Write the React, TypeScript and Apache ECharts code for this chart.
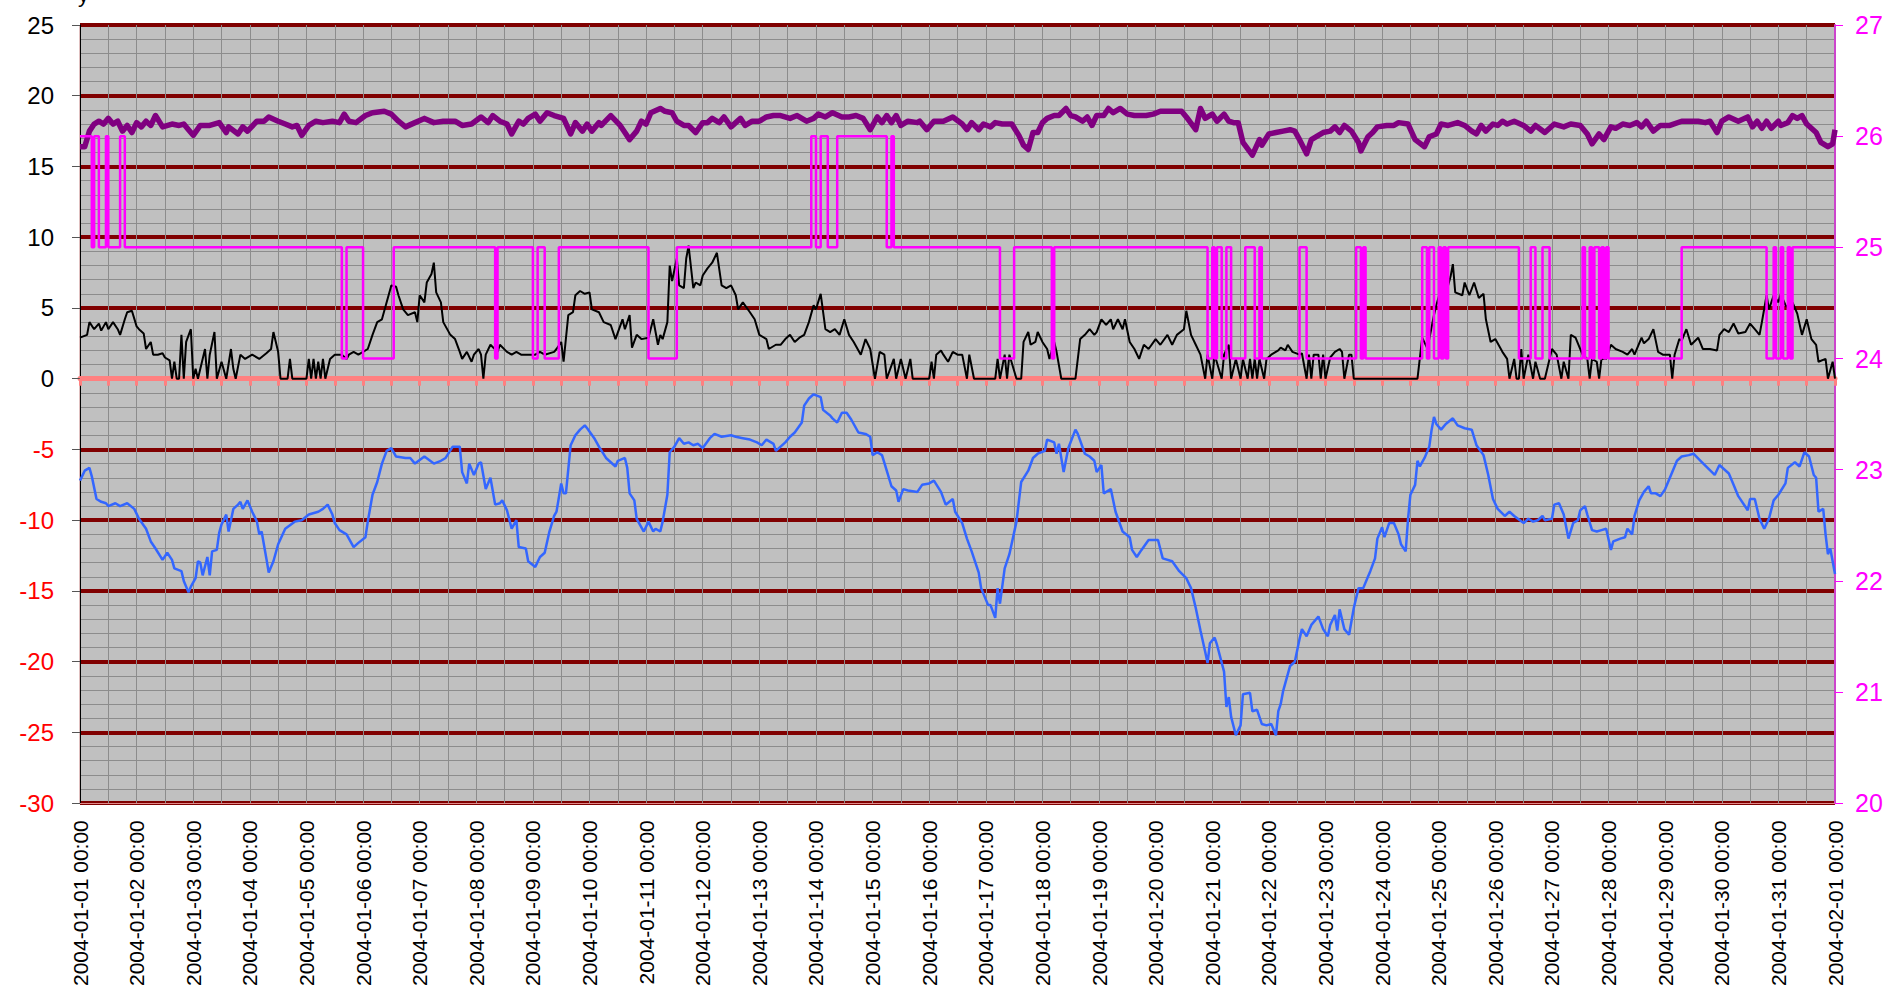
import { useEffect, useRef } from "react";
import * as echarts from "echarts";

// x values are hours since 2004-01-01 00:00
const X_MIN = 0;
const X_MAX = 744;
const LEFT_TICKS = { min: -30, max: 25, step: 5 };
const RIGHT_TICKS = { min: 20, max: 27, step: 1 };
const AXIS_TITLE = "y";

const purpleSeries: [number, number][] = [
  [0,16.4],[2,16.4],[4,17.5],[6,18.0],[8,18.2],[10,18.0],[12,18.4],[14,18.0],[16,18.2],[18,17.5],[20,17.9],[22,17.4],[24,18.1],[26,17.8],[28,18.2],[30,17.9],[32,18.6],[35,17.8],[39,18.0],[42,17.9],[44,18.0],[46,17.6],[48,17.2],[51,17.9],[55,17.9],[59,18.1],[62,17.4],[63,17.8],[67,17.3],[69,17.8],[71,17.5],[75,18.2],[78,18.2],[80,18.5],[84,18.2],[87,18.0],[90,17.8],[92,17.9],[94,17.2],[97,17.9],[100,18.2],[103,18.1],[107,18.2],[110,18.1],[112,18.7],[114,18.2],[117,18.1],[121,18.6],[124,18.8],[129,18.9],[132,18.7],[135,18.2],[138,17.8],[142,18.1],[146,18.4],[150,18.1],[154,18.2],[159,18.2],[162,17.9],[166,18.0],[170,18.5],[173,18.1],[175,18.6],[178,18.2],[181,18.0],[183,17.3],[186,18.2],[188,18.0],[190,18.4],[193,18.7],[195,18.2],[198,18.8],[201,18.6],[205,18.4],[208,17.3],[210,18.1],[213,17.5],[215,18.0],[217,17.5],[220,18.1],[221,17.9],[225,18.6],[229,17.9],[231,17.4],[233,16.9],[236,17.5],[238,18.2],[240,18.0],[242,18.8],[246,19.1],[248,18.9],[251,18.8],[253,18.2],[256,17.9],[258,17.9],[261,17.4],[264,18.1],[266,18.1],[268,18.4],[271,18.1],[273,18.5],[276,17.8],[280,18.4],[282,17.9],[285,18.2],[288,18.2],[291,18.5],[294,18.6],[297,18.6],[301,18.4],[304,18.6],[308,18.2],[311,18.4],[313,18.7],[316,18.5],[319,18.8],[323,18.5],[326,18.5],[329,18.6],[332,18.4],[335,17.6],[338,18.5],[340,18.1],[342,18.6],[344,18.1],[346,18.6],[348,17.9],[351,18.2],[355,18.1],[356,18.2],[359,17.6],[362,18.2],[366,18.2],[370,18.5],[374,18.0],[376,17.6],[378,18.1],[381,17.6],[383,18.0],[386,17.8],[388,18.1],[391,18.0],[395,18.0],[398,17.2],[400,16.5],[402,16.2],[404,17.4],[406,17.4],[408,18.1],[410,18.4],[413,18.6],[415,18.6],[418,19.1],[420,18.6],[422,18.5],[425,18.2],[427,18.5],[429,17.9],[431,18.6],[434,18.6],[436,19.1],[438,18.8],[441,19.1],[444,18.7],[447,18.6],[452,18.6],[455,18.7],[458,18.9],[463,18.9],[467,18.9],[469,18.5],[473,17.6],[475,19.1],[477,18.4],[480,18.7],[482,18.2],[485,18.7],[487,18.2],[489,18.1],[491,18.1],[493,16.7],[497,15.8],[500,16.9],[501,16.5],[504,17.3],[507,17.4],[510,17.5],[513,17.6],[515,17.5],[517,16.9],[520,15.9],[522,16.9],[525,17.2],[527,17.4],[530,17.5],[532,17.8],[534,17.4],[536,17.9],[539,17.5],[542,16.7],[543,16.1],[546,17.1],[548,17.4],[550,17.8],[554,17.9],[557,17.9],[559,18.1],[563,18.0],[566,16.9],[570,16.4],[572,17.1],[575,17.3],[577,18.0],[580,17.9],[584,18.1],[587,17.9],[590,17.5],[592,17.3],[594,17.9],[596,17.5],[599,18.0],[601,17.9],[603,18.2],[605,18.0],[608,18.2],[612,17.9],[615,17.5],[617,17.9],[621,17.4],[625,18.0],[629,17.8],[632,18.0],[636,17.9],[639,17.3],[641,16.6],[644,17.3],[646,16.9],[649,17.8],[651,17.7],[654,18.0],[657,17.9],[660,18.1],[662,17.8],[664,18.2],[667,17.5],[670,17.9],[674,17.9],[679,18.2],[686,18.2],[689,18.1],[691,18.2],[694,17.4],[696,18.2],[699,18.5],[703,18.2],[707,18.5],[709,17.8],[711,18.2],[713,17.7],[715,18.2],[717,17.7],[720,18.2],[721,17.9],[724,18.1],[726,18.6],[728,18.4],[730,18.6],[732,18.0],[736,17.4],[738,16.7],[741,16.4],[743,16.6],[744,17.6]
];

const blackSeries: [number, number][] = [
  [0,2.9],[3,3.1],[4,4.0],[6,3.5],[8,3.9],[9,3.4],[11,4.0],[12,3.5],[14,4.0],[16,3.5],[17,3.1],[19,4.2],[20,4.7],[22,4.8],[24,3.7],[25,3.5],[27,3.2],[28,2.1],[30,2.6],[31,1.7],[33,1.7],[35,1.8],[36,1.5],[38,1.3],[39,0],[40,1.2],[41,0],[42,0],[43,3.1],[44,0],[45,2.6],[47,3.5],[48,0],[49,0.7],[50,0],[53,2.1],[54,0],[55,1.7],[57,3.3],[58,0],[60,1.2],[62,0],[64,2.1],[65,0.7],[66,0],[68,1.7],[70,1.4],[73,1.7],[76,1.4],[79,1.8],[81,2.1],[82,3.3],[84,1.9],[85,0],[88,0],[89,1.4],[90,0],[96,0],[97,1.4],[98,0],[99,1.4],[100,0],[101,1.2],[102,0],[103,1.4],[104,0],[106,1.4],[108,1.7],[111,1.7],[113,1.4],[114,1.7],[116,1.9],[118,1.7],[120,1.9],[122,2.1],[124,3.1],[126,4.0],[128,4.2],[130,5.4],[132,6.6],[134,6.5],[135,5.9],[137,4.9],[139,4.5],[142,4.7],[143,4.0],[144,5.9],[146,5.4],[147,6.8],[149,7.4],[150,8.2],[151,6.1],[153,5.4],[154,4.0],[157,3.1],[159,2.8],[161,1.9],[162,1.4],[164,1.9],[166,1.2],[167,1.7],[169,2.1],[170,1.7],[171,0],[172,1.7],[174,2.4],[177,1.9],[178,2.4],[181,1.9],[183,1.7],[185,1.9],[187,1.7],[189,1.7],[193,1.7],[195,1.9],[197,1.7],[201,1.9],[202,2.1],[204,2.6],[205,1.2],[207,4.5],[209,4.7],[210,5.9],[212,6.2],[214,6.0],[216,6.1],[217,4.9],[220,4.7],[222,4.0],[225,3.8],[227,2.8],[230,4.2],[231,3.5],[233,4.5],[234,2.2],[236,3.1],[238,2.8],[241,2.9],[243,4.2],[245,2.4],[246,3.1],[247,2.8],[249,4.0],[250,8.0],[251,6.9],[253,8.5],[254,6.6],[256,6.4],[257,8.5],[258,9.4],[260,6.4],[261,6.8],[263,6.6],[264,7.3],[266,7.8],[268,8.2],[270,8.9],[272,6.6],[274,6.4],[276,6.6],[278,5.9],[279,4.9],[281,5.4],[284,4.7],[286,4.2],[288,3.1],[291,2.8],[292,2.1],[295,2.4],[297,2.4],[299,2.8],[301,3.1],[303,2.6],[305,2.9],[307,3.1],[309,4.0],[311,5.2],[312,4.9],[314,6.0],[316,3.5],[318,3.3],[320,3.5],[322,3.1],[324,4.2],[326,3.1],[328,2.6],[331,1.7],[333,2.8],[335,2.1],[337,0],[339,1.9],[341,1.7],[342,0],[345,1.4],[346,0],[348,1.4],[350,0],[352,1.4],[353,0],[360,0],[361,1.2],[362,0],[363,1.7],[365,2.0],[366,1.7],[368,1.2],[370,1.9],[372,1.7],[374,1.7],[376,0],[377,1.7],[379,0],[388,0],[389,1.4],[390,0],[392,1.7],[393,0],[394,1.7],[397,0],[399,0],[400,2.6],[402,3.3],[403,2.4],[405,2.6],[406,3.3],[408,2.6],[410,2.1],[411,1.4],[413,2.6],[414,1.9],[416,0],[422,0],[424,2.8],[426,3.1],[428,3.5],[430,3.1],[431,3.3],[433,4.2],[435,3.8],[437,4.2],[438,3.5],[440,4.2],[442,3.5],[443,4.2],[445,2.6],[447,2.1],[449,1.4],[451,2.4],[453,2.1],[456,2.8],[458,2.4],[461,3.1],[463,2.4],[465,3.1],[468,3.5],[469,4.8],[471,3.1],[473,2.4],[475,1.7],[477,0],[478,1.7],[480,0],[481,1.7],[484,0],[485,1.7],[487,2.4],[488,0],[490,1.4],[492,0],[493,1.4],[495,0],[496,1.4],[497,0],[498,1.4],[499,0],[500,1.4],[502,0],[503,1.4],[505,1.7],[508,2.0],[509,2.2],[511,2.0],[512,2.4],[514,1.9],[517,1.7],[518,1.8],[520,0],[521,1.7],[522,0],[523,1.7],[525,1.7],[526,0],[527,1.7],[528,0],[530,1.5],[532,1.9],[534,2.1],[535,1.9],[536,0],[538,1.7],[539,1.7],[540,0],[567,0],[569,2.9],[571,2.2],[572,2.8],[574,4.5],[575,5.2],[577,6.4],[579,6.1],[580,6.6],[581,7.2],[582,8.1],[583,6.1],[586,5.9],[587,6.8],[589,5.9],[591,6.8],[593,5.7],[595,6.0],[596,4.2],[598,2.6],[600,2.8],[603,1.9],[605,1.4],[606,0],[608,1.4],[609,0],[610,0],[611,2.1],[612,0],[614,1.7],[616,0],[617,1.2],[619,0],[621,0],[624,2.1],[626,1.7],[628,0],[629,1.2],[631,0],[632,3.1],[634,2.9],[636,2.1],[637,1.7],[639,1.4],[640,0],[641,1.4],[643,1.2],[644,0],[645,1.4],[647,1.4],[649,2.4],[651,2.1],[654,1.9],[656,1.7],[658,2.1],[659,1.7],[662,2.9],[663,2.5],[665,2.8],[667,3.5],[669,1.9],[671,1.7],[674,1.7],[675,0],[676,1.7],[678,2.8],[679,2.7],[681,3.5],[683,2.4],[686,2.9],[688,2.1],[691,2.1],[694,2.0],[695,3.1],[697,3.5],[699,3.3],[701,3.9],[703,3.2],[706,3.3],[708,3.9],[710,3.5],[712,3.1],[713,4.0],[715,5.9],[716,4.9],[718,5.9],[720,5.4],[721,6.0],[723,5.2],[725,4.9],[726,5.4],[728,4.6],[730,3.1],[732,4.2],[734,2.8],[736,2.4],[737,1.2],[740,1.4],[741,0],[743,1.2],[744,0]
];

const blueSeries: [number, number][] = [
  [0,-7.2],[2,-6.5],[4,-6.3],[5,-6.9],[7,-8.5],[9,-8.7],[11,-8.8],[12,-9.0],[15,-8.8],[17,-9.0],[20,-8.8],[23,-9.2],[25,-9.9],[28,-10.6],[30,-11.5],[32,-12.0],[35,-12.8],[37,-12.3],[39,-12.8],[40,-13.4],[43,-13.6],[44,-14.3],[46,-15.1],[47,-14.7],[49,-14.1],[50,-12.9],[51,-13.0],[52,-13.9],[54,-12.6],[55,-13.9],[56,-12.2],[58,-12.1],[59,-10.9],[60,-10.3],[62,-9.6],[63,-10.8],[65,-9.2],[67,-8.9],[68,-8.7],[69,-9.2],[71,-8.6],[73,-9.4],[75,-10.1],[76,-11.0],[77,-10.8],[79,-12.7],[80,-13.7],[82,-12.9],[84,-11.7],[87,-10.6],[91,-10.1],[94,-10.0],[97,-9.6],[101,-9.4],[103,-9.2],[105,-8.9],[107,-9.6],[108,-10.2],[110,-10.7],[113,-11.0],[116,-11.9],[118,-11.6],[121,-11.2],[122,-10.1],[124,-8.2],[126,-7.3],[128,-6.0],[130,-5.1],[132,-4.9],[134,-5.5],[138,-5.6],[140,-5.6],[142,-6.0],[146,-5.5],[150,-6.0],[153,-5.8],[155,-5.6],[158,-4.8],[161,-4.8],[162,-6.6],[164,-7.4],[165,-6.0],[167,-6.8],[169,-6.0],[170,-5.9],[172,-7.8],[174,-7.0],[176,-8.9],[178,-8.8],[179,-8.6],[181,-9.3],[183,-10.6],[185,-10.0],[186,-11.9],[189,-12.0],[190,-12.9],[193,-13.3],[195,-12.6],[197,-12.3],[199,-10.8],[201,-9.7],[202,-9.4],[204,-7.4],[205,-8.1],[206,-8.1],[208,-4.7],[210,-4.0],[212,-3.6],[214,-3.3],[215,-3.5],[218,-4.2],[220,-4.8],[223,-5.6],[225,-5.9],[227,-6.2],[228,-5.8],[231,-5.6],[232,-6.3],[233,-8.1],[235,-8.6],[236,-9.9],[239,-10.8],[241,-10.1],[243,-10.8],[244,-10.6],[246,-10.8],[247,-10.1],[249,-8.2],[250,-5.2],[252,-4.8],[254,-4.2],[256,-4.6],[258,-4.5],[260,-4.7],[262,-4.6],[264,-4.9],[267,-4.2],[269,-3.9],[272,-4.1],[276,-4.0],[278,-4.1],[281,-4.2],[284,-4.3],[287,-4.5],[289,-4.7],[291,-4.3],[294,-4.6],[295,-5.1],[299,-4.5],[301,-4.1],[303,-3.8],[306,-3.1],[307,-1.9],[309,-1.4],[311,-1.1],[314,-1.3],[315,-2.2],[318,-2.6],[319,-2.8],[321,-3.1],[323,-2.4],[325,-2.4],[327,-2.9],[330,-3.8],[333,-3.9],[335,-4.1],[336,-5.4],[338,-5.2],[340,-5.4],[342,-6.5],[344,-7.6],[346,-7.9],[347,-8.7],[349,-7.8],[351,-7.9],[355,-8.0],[357,-7.5],[360,-7.4],[362,-7.2],[365,-8.0],[367,-8.9],[370,-8.5],[371,-9.4],[374,-10.2],[376,-11.3],[378,-12.2],[381,-13.7],[382,-14.8],[385,-16.0],[386,-16.0],[388,-16.9],[389,-14.8],[390,-15.9],[392,-13.4],[394,-12.4],[397,-10.1],[399,-7.3],[402,-6.5],[404,-5.6],[406,-5.3],[409,-5.1],[410,-4.3],[413,-4.5],[414,-5.3],[415,-4.6],[417,-6.6],[419,-4.9],[422,-3.6],[423,-3.9],[426,-5.3],[428,-5.5],[430,-5.8],[431,-6.6],[433,-6.1],[434,-8.1],[437,-7.8],[439,-9.4],[442,-10.8],[445,-11.2],[446,-12.1],[448,-12.6],[450,-12.1],[453,-11.4],[457,-11.4],[459,-12.7],[463,-12.9],[466,-13.6],[469,-14.1],[471,-14.8],[473,-16.2],[475,-17.8],[477,-19.3],[478,-20.1],[479,-18.7],[481,-18.3],[482,-18.8],[485,-20.7],[486,-23.2],[487,-22.5],[488,-23.9],[490,-25.2],[492,-24.5],[493,-22.3],[496,-22.2],[497,-23.5],[499,-23.4],[501,-24.4],[503,-24.5],[505,-24.4],[507,-25.2],[508,-23.5],[509,-23.0],[510,-22.1],[512,-20.9],[513,-20.3],[515,-20.0],[517,-18.4],[518,-17.7],[520,-18.2],[522,-17.4],[525,-16.8],[527,-17.7],[529,-18.2],[530,-17.4],[532,-16.7],[533,-17.8],[534,-16.3],[536,-17.7],[538,-18.1],[540,-16.2],[542,-14.8],[544,-14.8],[546,-14.0],[547,-13.6],[549,-12.7],[550,-11.3],[552,-10.5],[553,-11.2],[555,-10.2],[557,-10.2],[559,-11.0],[560,-11.7],[562,-12.2],[563,-9.9],[564,-8.2],[566,-7.5],[567,-5.8],[568,-6.2],[570,-5.6],[572,-4.8],[573,-3.6],[574,-2.7],[575,-3.2],[577,-3.6],[579,-3.2],[582,-2.8],[584,-3.3],[587,-3.5],[590,-3.6],[592,-4.7],[595,-5.4],[597,-6.8],[599,-8.5],[601,-9.2],[604,-9.7],[606,-9.4],[608,-9.7],[612,-10.2],[614,-9.9],[616,-10.1],[618,-10.0],[620,-9.7],[621,-10.0],[624,-9.9],[625,-8.9],[627,-8.8],[629,-9.6],[631,-11.3],[633,-10.2],[635,-10.0],[636,-9.3],[638,-9.0],[639,-9.6],[641,-10.7],[643,-10.8],[645,-10.7],[647,-10.6],[649,-12.1],[650,-11.5],[653,-11.3],[655,-11.2],[656,-10.6],[658,-11.0],[659,-9.7],[661,-8.6],[663,-8.0],[665,-7.6],[666,-8.1],[668,-8.1],[670,-8.3],[672,-7.8],[674,-7.0],[677,-5.8],[679,-5.5],[682,-5.4],[684,-5.3],[687,-5.8],[690,-6.3],[693,-6.8],[695,-6.1],[699,-6.7],[701,-7.5],[703,-8.3],[707,-9.3],[708,-8.5],[710,-8.5],[712,-9.9],[714,-10.6],[716,-9.9],[718,-8.6],[720,-8.2],[723,-7.4],[724,-6.3],[727,-5.9],[729,-6.2],[731,-5.2],[733,-5.5],[735,-6.8],[736,-7.0],[737,-9.4],[739,-9.2],[740,-11.0],[741,-12.4],[742,-12.0],[743,-12.9],[744,-13.8]
];

// step series on the right axis: [hour, level from this hour on]
const magentaSteps: [number, number][] = [
  [0,26],[5,25],[6,26],[8,25],[11,26],[12,25],[17,26],[19,25],[111,24],[113,25],[120,24],[133,25],[176,24],[177,25],[192,24],[194,25],[197,24],[203,25],[241,24],[253,25],[310,26],[312,25],[314,26],[317,25],[321,26],[342,25],[344,26],[345,25],[390,24],[396,25],[412,24],[413,25],[478,24],[480,25],[481,24],[482,25],[484,24],[486,25],[488,24],[494,25],[498,24],[500,25],[501,24],[517,25],[520,24],[541,25],[543,24],[544,25],[545,24],[569,25],[571,24],[572,25],[574,24],[576,25],[577,24],[578,25],[579,24],[580,25],[610,24],[615,25],[617,24],[620,25],[623,24],[637,25],[638,24],[640,25],[641,24],[642,25],[644,24],[645,25],[646,24],[647,25],[648,24],[679,25],[715,24],[718,25],[719,24],[721,25],[722,24],[724,25],[725,24],[726,25],[744,25]
];

const FONT = "'Liberation Sans', Arial, Helvetica, sans-serif";

const pad = (n: number) => (n < 10 ? "0" + n : "" + n);
const fmtHour = (v: number) => {
  const d = new Date(Date.UTC(2004, 0, 1) + v * 3600000);
  return `${d.getUTCFullYear()}-${pad(d.getUTCMonth() + 1)}-${pad(d.getUTCDate())} ${pad(d.getUTCHours())}:${pad(d.getUTCMinutes())}`;
};

export default function App() {
  const ref = useRef<HTMLDivElement>(null);
  useEffect(() => {
    document.body.style.margin = "0";
    const chart = echarts.init(ref.current as HTMLDivElement, null, { renderer: "svg" });
    chart.setOption({
      animation: false,
      backgroundColor: "#ffffff",
      textStyle: { fontFamily: FONT },
      grid: {
        left: 80,
        right: 55,
        top: 25,
        bottom: 184,
        show: true,
        backgroundColor: "#c0c0c0",
        borderColor: "#c08080",
        borderWidth: 1,
      },
      graphic: [
        {
          type: "text",
          left: 78,
          top: -17,
          silent: true,
          style: { text: AXIS_TITLE, font: `22px ${FONT}`, fill: "#000000" },
        },
      ],
      xAxis: [
        {
          type: "value",
          min: X_MIN,
          max: X_MAX,
          interval: 12,
          position: "bottom",
          axisLine: { show: true, onZero: true, onZeroAxisIndex: 0, lineStyle: { color: "#ff8080", width: 5 } },
          axisTick: { show: true, length: 7, lineStyle: { color: "#ff8080", width: 3 } },
          axisLabel: { show: false },
          splitLine: { show: true, lineStyle: { color: "#8c8c8c", width: 1 } },
        },
        {
          type: "value",
          min: X_MIN,
          max: X_MAX,
          interval: 24,
          position: "bottom",
          axisLine: { show: true, onZero: false, lineStyle: { color: "#e08a8a", width: 1 } },
          axisTick: { show: false },
          splitLine: { show: false },
          axisLabel: {
            rotate: 90,
            margin: 17,
            fontSize: 21,
            color: "#000000",
            fontFamily: FONT,
            showMinLabel: true,
            showMaxLabel: true,
            formatter: (v: number) => fmtHour(v),
          },
        },
      ],
      yAxis: [
        {
          type: "value",
          min: LEFT_TICKS.min,
          max: LEFT_TICKS.max,
          interval: LEFT_TICKS.step,
          position: "left",
          axisLine: { show: true, onZero: false, lineStyle: { color: "#000000", width: 1 } },
          axisTick: { show: true, length: 8, lineStyle: { color: "#555555", width: 1 } },
          axisLabel: {
            fontSize: 24,
            margin: 26,
            fontFamily: FONT,
            color: (v: any) => (Number(v) < 0 ? "#ff0000" : "#000000"),
          },
          splitLine: { show: true, lineStyle: { color: "#800000", width: 4 } },
          minorTick: { show: false, splitNumber: 5 },
          minorSplitLine: { show: true, lineStyle: { color: "#8c8c8c", width: 1 } },
        },
        {
          type: "value",
          min: RIGHT_TICKS.min,
          max: RIGHT_TICKS.max,
          interval: RIGHT_TICKS.step,
          position: "right",
          axisLine: { show: true, onZero: false, lineStyle: { color: "#cc44cc", width: 2 } },
          axisTick: { show: true, length: 8, lineStyle: { color: "#ff00ff", width: 1 } },
          axisLabel: { fontSize: 25, margin: 20, color: "#ff00ff", fontFamily: FONT },
          splitLine: { show: false },
        },
      ],
      series: [
        {
          name: "black",
          type: "line",
          xAxisIndex: 0,
          yAxisIndex: 0,
          data: blackSeries,
          showSymbol: false,
          symbol: "none",
          lineStyle: { color: "#000000", width: 2 },
          z: 3,
        },
        {
          name: "blue",
          type: "line",
          xAxisIndex: 0,
          yAxisIndex: 0,
          data: blueSeries,
          showSymbol: false,
          symbol: "none",
          lineStyle: { color: "#3366ff", width: 2.5 },
          z: 3,
        },
        {
          name: "purple",
          type: "line",
          xAxisIndex: 0,
          yAxisIndex: 0,
          data: purpleSeries,
          showSymbol: false,
          symbol: "none",
          lineStyle: { color: "#800080", width: 5.5, join: "round" },
          z: 3,
        },
        {
          name: "magenta",
          type: "line",
          step: "end",
          xAxisIndex: 0,
          yAxisIndex: 1,
          data: magentaSteps,
          showSymbol: false,
          symbol: "none",
          lineStyle: { color: "#ff00ff", width: 2.5 },
          z: 4,
        },
      ],
    });
    return () => chart.dispose();
  }, []);
  return <div ref={ref} style={{ width: 1890, height: 989 }} />;
}
